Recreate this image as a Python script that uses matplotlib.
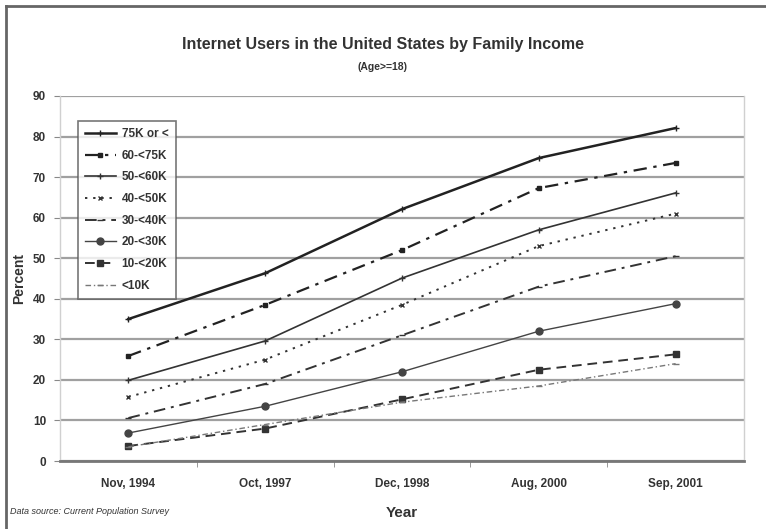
import matplotlib.pyplot as plt
from matplotlib.lines import Line2D

years = ['Nov, 1994', 'Oct, 1997', 'Dec, 1998', 'Aug, 2000', 'Sep, 2001']
labels = ['75K or <', '60-<75K', '50-<60K', '40-<50K', '30-<40K', '20-<30K', '10-<20K', '<10K']

inc_75 = [35.0, 46.3, 62.1, 74.7, 82.1]
inc_60 = [25.9, 38.5, 52.0, 67.3, 73.5]
inc_50 = [19.9, 29.6, 45.1, 57.0, 66.1]
inc_40 = [15.8, 25.0, 38.5, 53.0, 61.0]
inc_30 = [10.6, 19.0, 31.0, 43.0, 50.5]
inc_20 = [6.9, 13.5, 22.0, 32.0, 38.8]
inc_10 = [3.7, 8.0, 15.2, 22.5, 26.3]
inc_0 = [3.5, 9.0, 14.5, 18.5, 24.0]

series = [inc_75, inc_60, inc_50, inc_40, inc_30, inc_20, inc_10, inc_0]

styles = [
    dict(color='#222222', lw=1.8, ls='-', marker='+', ms=4),
    dict(color='#222222', lw=1.6, ls=(0, (6, 3, 1.5, 3)), marker='s', ms=3),
    dict(color='#333333', lw=1.2, ls='-', marker='+', ms=4),
    dict(color='#333333', lw=1.4, ls=(0, (1.2, 3)), marker='x', ms=3),
    dict(color='#333333', lw=1.4, ls=(0, (6, 3, 1.5, 3)), marker='_', ms=4),
    dict(color='#444444', lw=1.0, ls='-', marker='o', ms=5),
    dict(color='#333333', lw=1.4, ls=(0, (5, 3)), marker='s', ms=5),
    dict(color='#777777', lw=1.0, ls=(0, (4, 2, 1, 2)), marker='_', ms=4),
]

plt.rcParams['font.family'] = ['Liberation Sans', 'DejaVu Sans']

fig = plt.figure(figsize=(7.66, 5.29), dpi=100)
ax = fig.add_axes([60 / 766, 1 - 461 / 529, 684 / 766, 365 / 529])

xs = list(range(len(years)))
for vals, lab, st in zip(series, labels, styles):
    ax.plot(xs, vals, label=lab, color=st['color'], lw=st['lw'], ls=st['ls'],
            marker=st['marker'], ms=st['ms'], mec=st['color'], mfc=st['color'])

ax.set_xlim(-0.5, len(years) - 0.5)
ax.set_ylim(0, 90)
ax.set_yticks(range(0, 91, 10))
ax.set_xticks(xs)
ax.set_xticklabels(years)
ax.set_xticks([i + 0.5 for i in xs[:-1]], minor=True)
ax.tick_params(axis='x', which='major', length=0, pad=12)
ax.tick_params(axis='x', which='minor', length=4, color='#888888')
ax.tick_params(axis='y', length=4, color='#888888', pad=6)
for t in ax.get_yticklabels() + ax.get_xticklabels():
    t.set_fontsize(8.5)
    t.set_fontweight('bold')
    t.set_color('#333333')

ax.grid(axis='y', color='#a0a0a0', lw=1.6)
ax.set_axisbelow(True)
for side in ['top', 'right', 'left']:
    ax.spines[side].set_color('#d0d0d0')
    ax.spines[side].set_linewidth(1.0)
ax.spines['top'].set_visible(False)
ax.spines['bottom'].set_color('#777777')
ax.spines['bottom'].set_linewidth(2)

ax.set_ylabel('Percent', fontsize=10, fontweight='bold', labelpad=5, color='#333333')
ax.set_xlabel('Year', fontsize=11, fontweight='bold', labelpad=12, color='#333333')

fig.text(0.5, 1 - 45 / 529, 'Internet Users in the United States by Family Income',
         ha='center', va='center', fontsize=11.5, fontweight='bold', color='#333333')
fig.text(0.5, 1 - 67 / 529, '(Age>=18)', ha='center', va='center',
         fontsize=7.5, fontweight='bold', color='#333333')
fig.text(10 / 766, 1 - 512 / 529, 'Data source: Current Population Survey',
         ha='left', va='center', fontsize=6.5, style='italic', color='#333333')

leg = ax.legend(loc='upper left', bbox_to_anchor=(18 / 684, 1 - 25 / 365),
                prop={'size': 8.5, 'weight': 'bold'},
                frameon=True, fancybox=False, borderaxespad=0,
                labelspacing=0.82, handlelength=2.6, handletextpad=0.5, borderpad=0.6)
leg.get_frame().set_edgecolor('#555555')
leg.get_frame().set_linewidth(1.2)
for t in leg.get_texts():
    t.set_color('#333333')

fig.add_artist(Line2D([6 / 766, 6 / 766], [0, 1 - 6 / 529], color='#666666', lw=2))
fig.add_artist(Line2D([6 / 766, 1], [1 - 6 / 529, 1 - 6 / 529], color='#666666', lw=2))

fig.savefig('out.png', dpi=100)
